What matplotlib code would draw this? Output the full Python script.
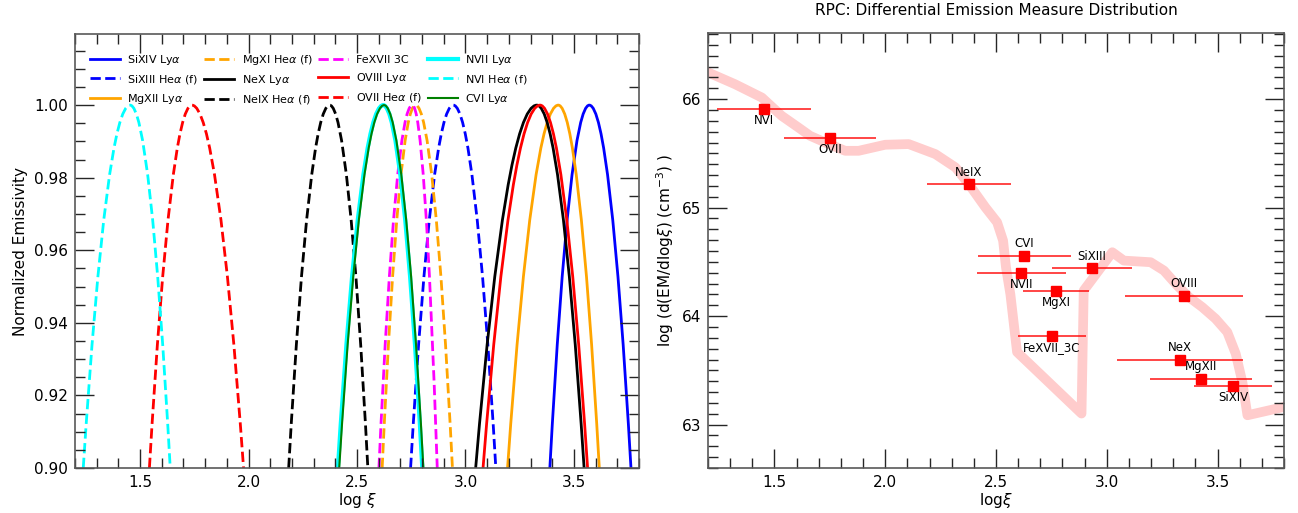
import numpy as np
import matplotlib
matplotlib.use("Agg")
from matplotlib import pyplot as plt
from matplotlib.ticker import MultipleLocator
from matplotlib.path import Path
from matplotlib.patches import PathPatch
from matplotlib.lines import Line2D

# ---- left panel: normalized emissivity, top of each curve ----
# where each curve crosses 0.90 on the left, where it peaks (1.0), where it crosses 0.90 on the right
line_names = ["SiXIV Ly$\\alpha$", "SiXIII He$\\alpha$ (f)", "MgXII Ly$\\alpha$",
              "MgXI He$\\alpha$ (f)", "NeX Ly$\\alpha$", "NeIX He$\\alpha$ (f)",
              "FeXVII 3C", "OVIII Ly$\\alpha$", "OVII He$\\alpha$ (f)",
              "NVII Ly$\\alpha$", "NVI He$\\alpha$ (f)", "CVI Ly$\\alpha$"]
x_left = [3.389, 2.747, 3.194, 2.616, 3.047, 2.185, 2.601, 3.081, 1.543, 2.412, 1.238, 2.418]
x_peak = [3.571, 2.944, 3.428, 2.770, 3.329, 2.374, 2.755, 3.344, 1.739, 2.621, 1.454, 2.625]
x_right = [3.763, 3.140, 3.617, 2.940, 3.547, 2.550, 2.870, 3.563, 1.977, 2.801, 1.639, 2.806]
y_floor = 0.90
y_peak = 1.00
line_colors = ["blue", "blue", "orange", "orange", "black", "black",
               "magenta", "red", "red", "cyan", "cyan", "green"]
line_styles = ["-", "--", "-", "--", "-", "--", "--", "-", "--", "-", "--", "-"]
line_widths = [2, 2, 2, 2, 2, 2, 2, 2, 2, 3, 2, 1.5]

# ---- right panel: DEM distribution ----
dem_x = [1.15, 1.202, 1.322, 1.443, 1.533, 1.608, 1.661, 1.729, 1.819, 1.880, 2.000,
         2.106, 2.226, 2.317, 2.377, 2.452, 2.505, 2.532, 2.545, 2.565, 2.595,
         2.886, 2.896, 3.025, 3.077, 3.198, 3.258, 3.318, 3.371, 3.431, 3.491,
         3.544, 3.582, 3.612, 3.635, 3.800, 3.85]
dem_y = [66.31, 66.245, 66.138, 66.015, 65.846, 65.739, 65.662, 65.601, 65.524, 65.524, 65.580,
         65.586, 65.494, 65.371, 65.218, 65.003, 64.865, 64.696, 64.45, 64.20, 63.669,
         63.102, 64.236, 64.589, 64.512, 64.497, 64.420, 64.282, 64.175, 64.083, 63.976,
         63.853, 63.654, 63.393, 63.086, 63.163, 63.18]

ion_names = ["NVI", "OVII", "NeIX", "CVI", "NVII", "SiXIII", "MgXI", "FeXVII_3C",
             "OVIII", "NeX", "MgXII", "SiXIV"]
ion_x = [1.452, 1.752, 2.377, 2.628, 2.615, 2.934, 2.772, 2.753, 3.348, 3.330, 3.427, 3.570]
ion_y = [65.908, 65.641, 65.214, 64.558, 64.396, 64.442, 64.236, 63.816, 64.190, 63.599, 63.424, 63.360]
ion_xerr = [0.213, 0.207, 0.19, 0.21, 0.2, 0.18, 0.15, 0.152, 0.266, 0.284, 0.23, 0.178]
label_above = [False, False, True, True, False, True, False, False, True, True, True, False]

fig = plt.figure(figsize=(12.98, 5.13), dpi=100)
ax1 = fig.add_axes([75 / 1298, 45 / 513, 564 / 1298, 434 / 513])
ax2 = fig.add_axes([708 / 1298, 45 / 513, 576 / 1298, 435 / 513])


def style_axes(ax):
    for sp in ax.spines.values():
        sp.set_color("0.35")
        sp.set_linewidth(1.2)
    ax.tick_params(which="both", direction="in", top=True, right=True,
                   colors="0.15", labelcolor="black", labelsize=11, pad=5)
    ax.tick_params(which="major", length=14, width=1)
    ax.tick_params(which="minor", length=7, width=1)


handles = []
for i in range(len(line_names)):
    xl, xp, xr = x_left[i], x_peak[i], x_right[i]
    # two quadratic pieces meeting flat at the peak
    verts = [(xl, y_floor), ((xl + xp) / 2, y_peak), (xp, y_peak),
             ((xp + xr) / 2, y_peak), (xr, y_floor)]
    codes = [Path.MOVETO, Path.CURVE3, Path.CURVE3, Path.CURVE3, Path.CURVE3]
    patch = PathPatch(Path(verts, codes), fill=False, edgecolor=line_colors[i],
                      linestyle=line_styles[i], linewidth=line_widths[i])
    ax1.add_patch(patch)
    handles.append(Line2D([], [], color=line_colors[i], ls=line_styles[i],
                          lw=line_widths[i], label=line_names[i]))

ax1.set_xlim(1.2, 3.8)
ax1.set_ylim(0.9, 1.0196)
ax1.set_yticks([0.90, 0.92, 0.94, 0.96, 0.98, 1.00])
ax1.set_xticks([1.5, 2.0, 2.5, 3.0, 3.5])
ax1.xaxis.set_minor_locator(MultipleLocator(0.1))
ax1.yaxis.set_minor_locator(MultipleLocator(0.005))
style_axes(ax1)
ax1.set_xlabel("log $\\xi$", fontsize=11, labelpad=0.5)
ax1.set_ylabel("Normalized Emissivity", fontsize=11)
ax1.legend(handles=handles, loc="upper left", ncol=4, frameon=False, fontsize=8,
           handlelength=2.7, handletextpad=0.7, columnspacing=0.5, labelspacing=0.55,
           bbox_to_anchor=(0.008, 0.98))

ax2.plot(dem_x, dem_y, color="red", alpha=0.2, lw=7, zorder=1)
ax2.errorbar(ion_x, ion_y, xerr=ion_xerr, fmt="s", color="red", ms=6.5,
             elinewidth=1.2, ecolor=(1, 0, 0, 0.85), capsize=0, zorder=3)
for name, x, y, up in zip(ion_names, ion_x, ion_y, label_above):
    ax2.annotate(name, (x, y), xytext=(0, 8.5 if up else -8.5), textcoords="offset points",
                 ha="center", va="center", fontsize=8.5)

ax2.set_xlim(1.2, 3.8)
ax2.set_ylim(62.6, 66.61)
ax2.set_xticks([1.5, 2.0, 2.5, 3.0, 3.5])
ax2.set_yticks([63, 64, 65, 66])
ax2.xaxis.set_minor_locator(MultipleLocator(0.1))
ax2.yaxis.set_minor_locator(MultipleLocator(0.1))
style_axes(ax2)
ax2.set_xlabel("log$\\xi$", fontsize=11, labelpad=0.5)
ax2.set_ylabel("log (d(EM/dlog$\\xi$) (cm$^{-3}$) )", fontsize=11)
ax2.set_title("RPC: Differential Emission Measure Distribution", fontsize=11, pad=13)

fig.savefig("out.png", dpi=100)
